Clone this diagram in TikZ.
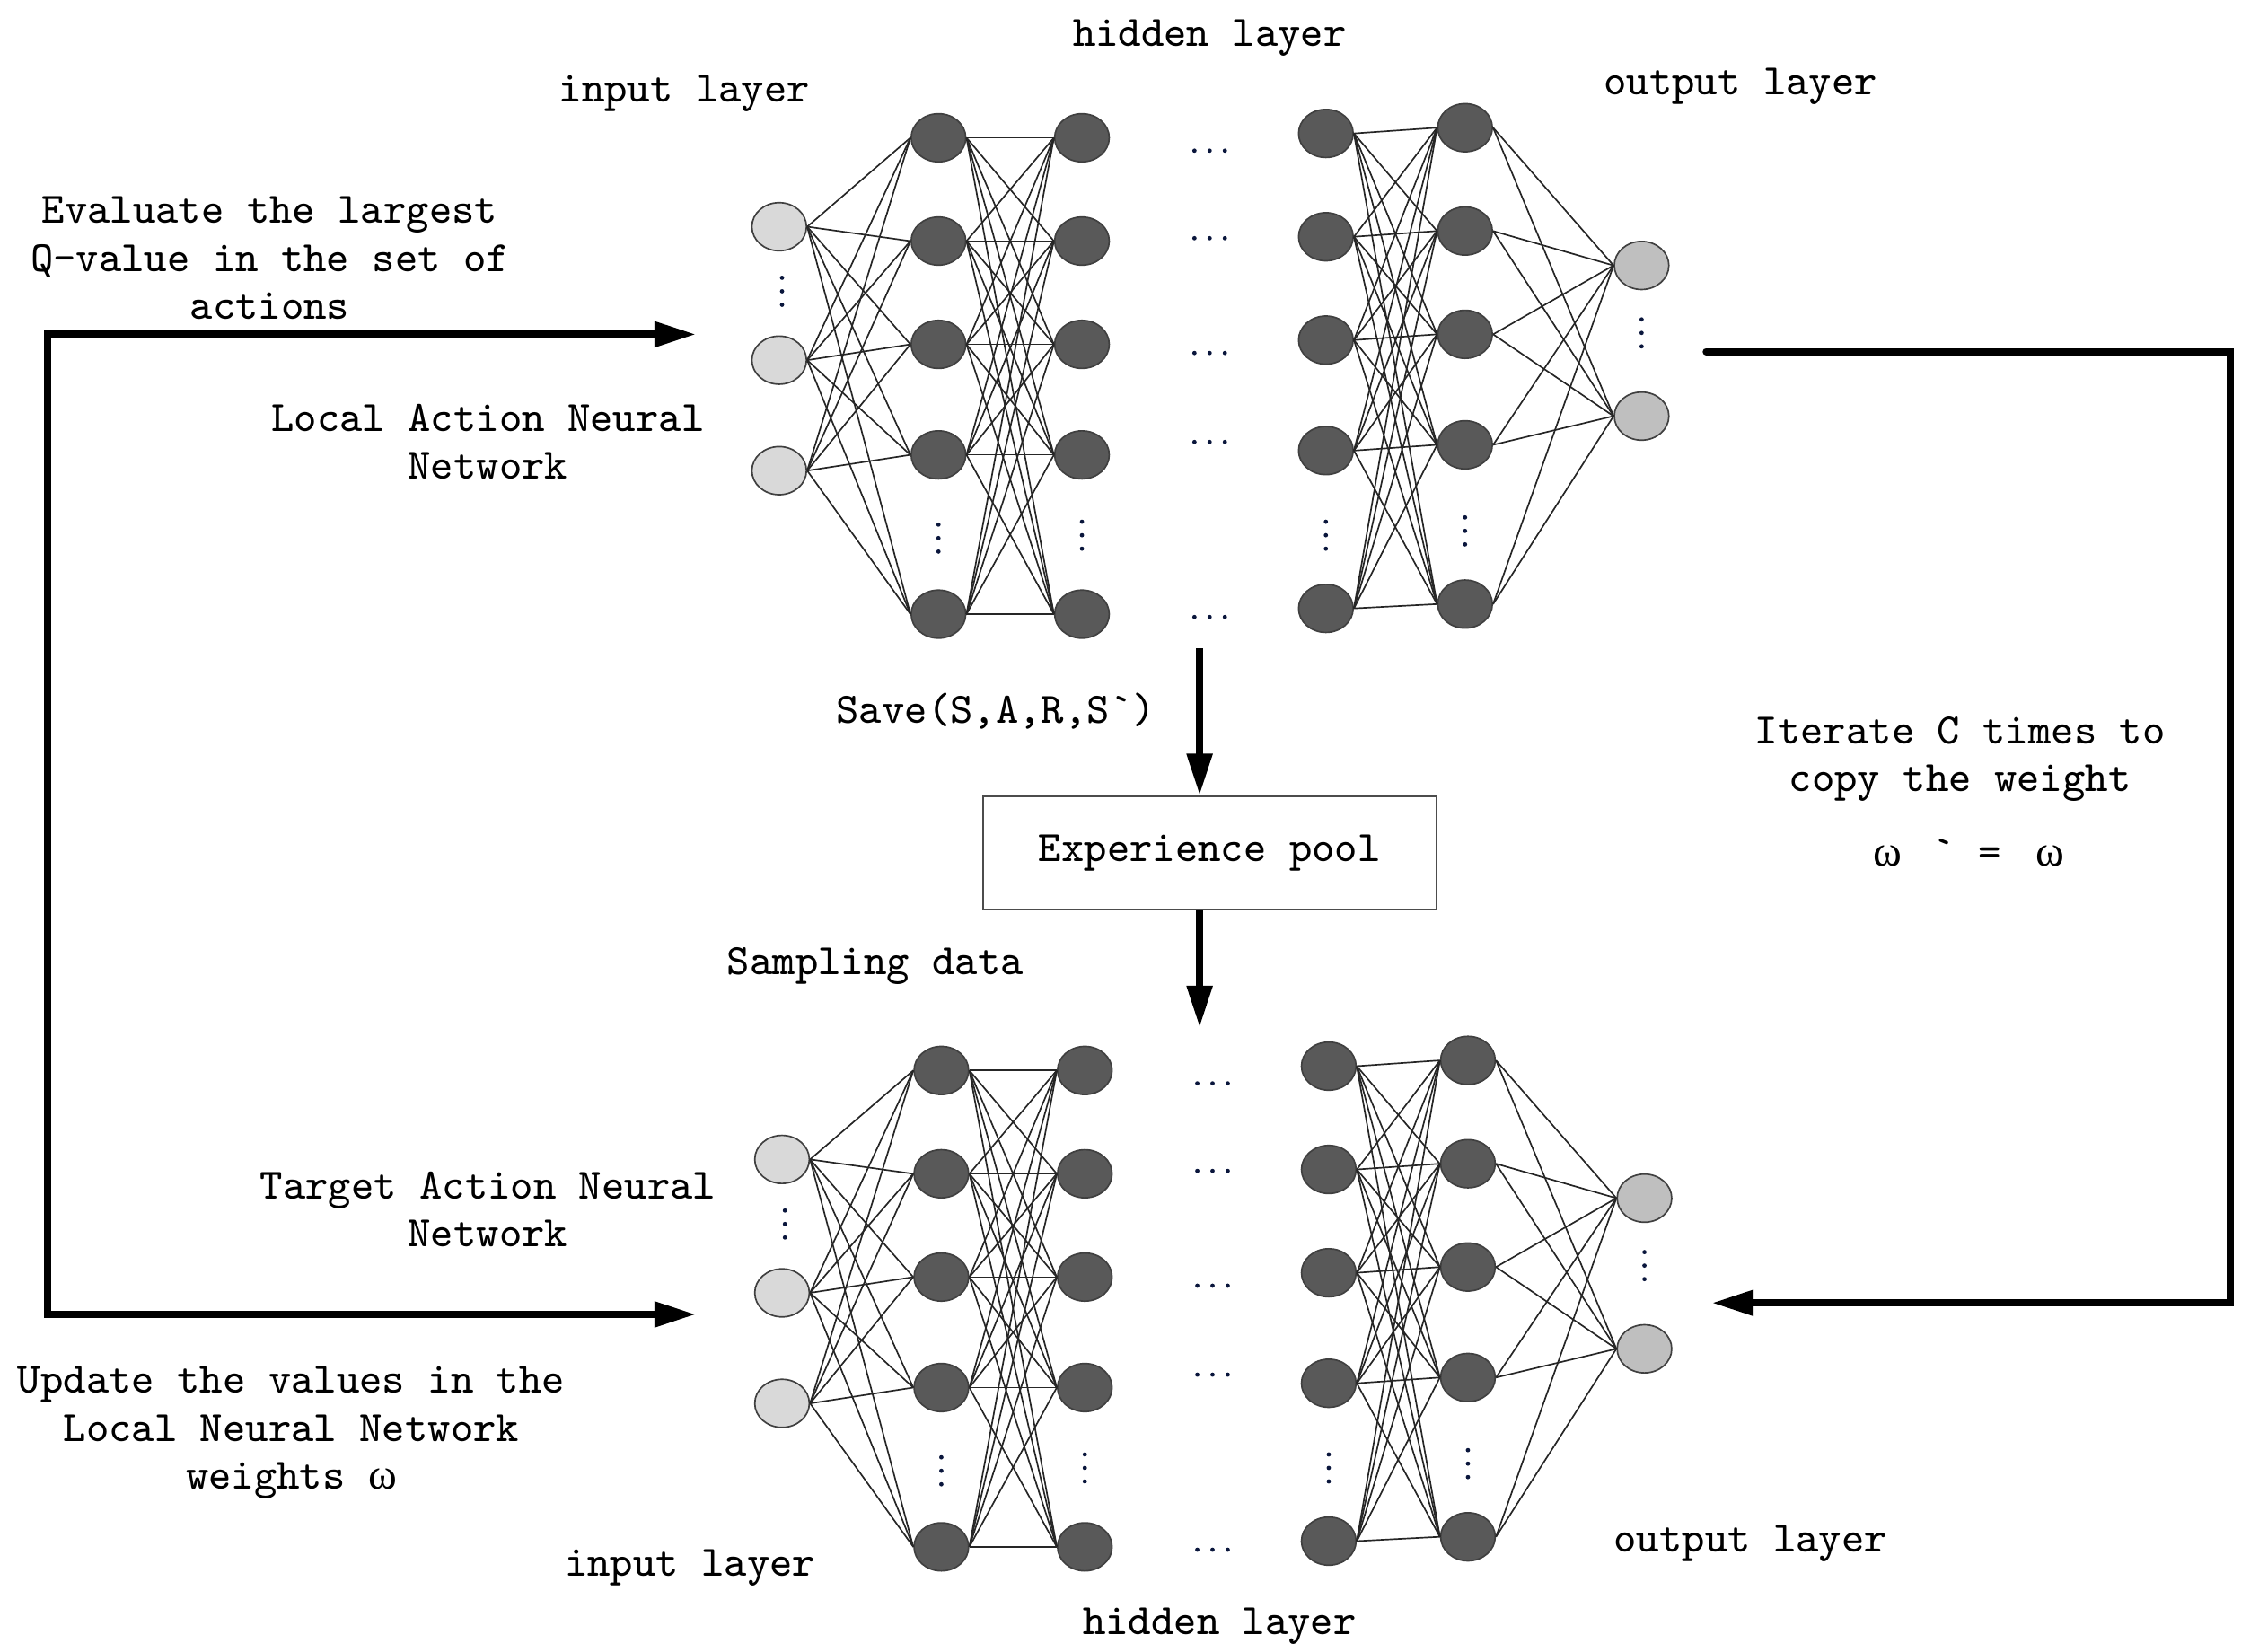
\documentclass[tikz,border=0pt]{standalone}
\usepackage{fontspec}
\usetikzlibrary{shapes.geometric,arrows.meta}
\newfontfamily\grkfont{Liberation Serif}
\newcommand\mylblfont{\ttfamily\fontsize{8.6}{9.5}\selectfont}
\definecolor{inputgray}{HTML}{D9D9D9}
\definecolor{hiddengray}{HTML}{595959}
\definecolor{outputgray}{HTML}{BFBFBF}
\definecolor{dotblue}{RGB}{10,22,60}
\begin{document}
\begin{tikzpicture}[x=0.01cm,y=-0.01cm,
  neuron/.style={ellipse,draw=black!75,line width=0.3pt,inner sep=0pt,minimum width=0.38cm,minimum height=0.335cm},
  inn/.style={neuron,fill=inputgray},
  hid/.style={neuron,fill=hiddengray},
  outn/.style={neuron,fill=outputgray},
  edge/.style={draw=black!85,line width=0.3pt},
  lbl/.style={font=\mylblfont,align=center,inner sep=0pt},
  bigarrow/.style={line width=0.05cm,-{Triangle[length=0.29cm,width=0.17cm]}},
  botharrow/.style={line width=0.05cm,{Triangle[length=0.29cm,width=0.17cm]}-{Triangle[length=0.29cm,width=0.17cm]}}
]
\useasboundingbox (0,0) rectangle (1568,1151);

\foreach \p/\dx/\dy in {T/0/0,B/2/650}{
\begin{scope}[shift={(\dx,\dy)}]
  \foreach \y [count=\i] in {158,251,328} \node[inn] (\p-i-\i) at (543,\y) {};
  \foreach \y [count=\i] in {96,168,240,317,428} {\node[hid] (\p-a-\i) at (654,\y) {}; \node[hid] (\p-b-\i) at (754,\y) {};}
  \foreach \y [count=\i] in {93,165,237,314,424} \node[hid] (\p-c-\i) at (924,\y) {};
  \foreach \y [count=\i] in {89,161,233,310,421} \node[hid] (\p-d-\i) at (1021,\y) {};
  \foreach \y [count=\i] in {185,290} \node[outn] (\p-o-\i) at (1144,\y) {};
  \foreach \j in {1,...,5}{
    \foreach \i in {1,...,3} \draw[edge] (\p-i-\i.east) -- (\p-a-\j.west);
    \foreach \k in {1,...,5} {\draw[edge] (\p-a-\k.east) -- (\p-b-\j.west); \draw[edge] (\p-c-\k.east) -- (\p-d-\j.west);}
    \foreach \i in {1,2} \draw[edge] (\p-d-\j.east) -- (\p-o-\i.west);
  }
  % vertical dots
  \foreach \x/\y in {545/203,654/375,754/373,924/373,1021/370,1144/232}
    \foreach \k in {-9.4,0,9.4} \fill[dotblue] (\x,{\y+\k}) circle[radius=0.015cm];
  % horizontal dots
  \foreach \y in {105,166,246,308,430}
    \foreach \k in {-10.6,0,10.6} \fill[dotblue] ({843+\k},\y) circle[radius=0.015cm];
\end{scope}}

% labels
\node[lbl] (hidT) at (843,26.5) {hidden layer};
\node[lbl] (inT) at (477,65.5) {input layer};
\node[lbl] (outT) at (1213,60.5) {output layer};
\node[lbl] (evalT) at (188,180) {Evaluate the largest\\Q-value in the set of\\actions};
\node[lbl] (localT) at (340,308) {Local Action Neural\\Network};
\node[lbl] (saveT) at (694,495.5) {Save(S,A,R,S`)};
\node[lbl,draw=black!70,line width=0.4pt,minimum width=3.16cm,minimum height=0.79cm] (pool) at (843,594.5) {Experience pool};
\node[lbl] (sampT) at (610,673.5) {Sampling data};
\node[lbl] (iterT) at (1366,529) {Iterate C times to\\copy the weight};
\node[lbl] (omegaT) at (1372,594) {{\grkfont ω}\hspace{0.216cm}`\hspace{0.16cm}=\hspace{0.236cm}{\grkfont ω}};
\node[lbl] (targT) at (340,843) {Target Action Neural\\Network};
\node[lbl] (updT) at (203,998.5) {Update the values in the\\Local Neural Network\\weights {\grkfont ω}};
\node[lbl] (inB) at (481,1092.5) {input layer};
\node[lbl] (hidB) at (850,1133.5) {hidden layer};
\node[lbl] (outB) at (1220,1075.5) {output layer};

% arrows
\coordinate (s1) at (836,452);
\coordinate (s2) at (836,716);
\draw[bigarrow] (s1) -- (s1 |- pool.north);
\draw[bigarrow] (s1 |- pool.south) -- (s2);

\coordinate (l0) at (485,233);
\coordinate (l1) at (485,916);
\coordinate (lc) at (33,233);
\draw[botharrow] (l1) -| (lc) -- (l0);

\coordinate (r0) at (1189,245);
\coordinate (rc) at (1554,245);
\coordinate (r1) at (1193,908);
\draw[bigarrow,line cap=round] (r0) -- (rc) |- (r1);
\end{tikzpicture}
\end{document}
